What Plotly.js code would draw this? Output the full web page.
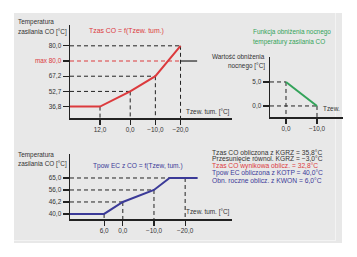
<!DOCTYPE html>
<html>
<head>
<meta charset="utf-8">
<script src="https://cdn.plot.ly/plotly-3.0.1.min.js"></script>
<style>
  html, body { margin: 0; padding: 0; background: #ffffff; }
  #chart { width: 357px; height: 257px; }
</style>
</head>
<body>
<div id="chart"></div>
<script>
// Heating curve: supply temperature vs. averaged outdoor temperature
var tzewTop = [12, 0, -10, -20];
var tempTop = ["36,8", "52,7", "67,2", "80,0"];
var catsTop = ["36,8", "52,7", "67,2", "max 80,0", "80,0"];
var maxTop = "max 80,0";

// Night set-back function
var tzewNight = [0, -10];
var setbackNight = [5, 0];

// Hot-water exchanger supply temperature vs. outdoor temperature
var tzewBot = [6, 0, -10, -15, -24];
var tempBot = ["40,0", "46,2", "56,0", "65,0", "65,0"];
var catsBot = ["40,0", "46,2", "56,0", "65,0"];
var tickTzewBot = [6, 0, -10, -20];

// Computed values listed at the bottom right
var infoLines = [
  "Tzas CO obliczona z KGRZ = 35,8°C",
  "Przesunięcie równol. KGRZ = −3,0°C",
  "Tzas CO wynikowa oblicz. = 32,8°C",
  "Tpow EC obliczona z KOTP = 40,0°C",
  "Obn. roczne oblicz. z KWON = 6,0°C"
];

var W = 357, H = 257;
function px(x) { return x / W; }
function py(y) { return 1 - y / H; }

var FONT = "Liberation Sans, Arial, sans-serif";
var RED = "#dc3a3d", BLUE = "#3b3a98", GREEN = "#33a35a", INK = "#222222", TXT = "#333333";
var DASH = "4px,3px";
var FS = 6.4;

function fmt(v) {
  var s = Math.abs(v).toFixed(1).replace(".", ",");
  return v < 0 ? "−" + s : s;
}

var baseAxis = {
  showgrid: false, zeroline: false, showline: true, linecolor: INK, linewidth: 1.5,
  ticks: "outside", ticklen: 6, tickwidth: 1.2, tickcolor: INK,
  tickfont: { family: FONT, size: FS, color: TXT }, fixedrange: true
};
function ax(extra) { return Object.assign({}, baseAxis, extra); }

var xTop = ax({ domain: [px(70), px(232)], range: [23.93, -40.46], anchor: "y",
  tickmode: "array", tickvals: tzewTop, ticktext: tzewTop.map(fmt), ticklen: 5 });
var yTop = ax({ domain: [py(118), py(25)], type: "category", categoryorder: "array",
  categoryarray: catsTop, range: [-0.75, 5.37], anchor: "x",
  tickmode: "array", tickvals: catsTop,
  ticktext: catsTop.map(function (c) { return c === maxTop ? '<span style="color:' + RED + '">' + c + '</span>' : c; }) });

var xNight = ax({ domain: [px(270), px(343)], range: [5.16, -18.39], anchor: "y2",
  tickmode: "array", tickvals: tzewNight, ticktext: tzewNight.map(fmt), ticklen: 5 });
var yNight = ax({ domain: [py(117), py(57)], range: [-2.3, 10.2], anchor: "x2",
  tickmode: "array", tickvals: setbackNight, ticktext: setbackNight.map(fmt) });

var xBot = ax({ domain: [px(70), px(232)], range: [16.94, -35.03], anchor: "y3",
  tickmode: "array", tickvals: tickTzewBot, ticktext: tickTzewBot.map(fmt), ticklen: 5 });
var yBot = ax({ domain: [py(219), py(154)], type: "category", categoryorder: "array",
  categoryarray: catsBot, range: [-0.42, 5.0], anchor: "x3",
  tickmode: "array", tickvals: catsBot, ticktext: catsBot });

var traces = [
  { type: "scatter", mode: "lines", xaxis: "x", yaxis: "y",
    x: [xTop.range[0]].concat(tzewTop), y: [tempTop[0]].concat(tempTop),
    line: { color: RED, width: 2 }, hoverinfo: "skip" },
  { type: "scatter", mode: "lines", xaxis: "x2", yaxis: "y2",
    x: tzewNight, y: setbackNight,
    line: { color: GREEN, width: 2 }, hoverinfo: "skip" },
  { type: "scatter", mode: "lines", xaxis: "x3", yaxis: "y3",
    x: [xBot.range[0]].concat(tzewBot), y: [tempBot[0]].concat(tempBot),
    line: { color: BLUE, width: 2 }, hoverinfo: "skip" }
];

var shapes = [];
// background panel
shapes.push({ type: "rect", xref: "paper", yref: "paper", x0: px(14), x1: px(342), y0: py(243), y1: py(13),
  fillcolor: "#e8e8e8", line: { width: 0 }, layer: "below" });
shapes.push({ type: "line", xref: "paper", yref: "paper", x0: px(335.5), x1: px(335.5), y0: py(241), y1: py(13),
  line: { color: "#f3f3f3", width: 1 }, layer: "below" });
shapes.push({ type: "line", xref: "paper", yref: "paper", x0: px(14), x1: px(335.5), y0: py(240.5), y1: py(240.5),
  line: { color: "#f3f3f3", width: 1 }, layer: "below" });

function guide(xr, yr, x0, y0, x1, y1, color) {
  shapes.push({ type: "line", xref: xr, yref: yr, x0: x0, y0: y0, x1: x1, y1: y1,
    line: { color: color || INK, width: 1, dash: DASH }, layer: "below" });
}

// heating curve guides
var topIdx = function (c) { return catsTop.indexOf(c); };
tzewTop.forEach(function (t, i) {
  guide("x", "y", t, topIdx(tempTop[i]), t, yTop.range[0]);
  if (i > 0) guide("x", "y", xTop.range[0], topIdx(tempTop[i]), t, topIdx(tempTop[i]));
});
guide("x", "y", xTop.range[0], topIdx(maxTop), tzewTop[tzewTop.length - 1], topIdx(maxTop), RED);
shapes.push({ type: "line", xref: "x", yref: "y", x0: tzewTop[tzewTop.length - 1], x1: -26.6,
  y0: topIdx(maxTop), y1: topIdx(maxTop), line: { color: INK, width: 1.2 } });

// night set-back guides
tzewNight.forEach(function (t, i) {
  guide("x2", "y2", t, setbackNight[i], t, yNight.range[0]);
  guide("x2", "y2", xNight.range[0], setbackNight[i], t, setbackNight[i]);
});

// exchanger curve guides
var botIdx = function (c) { return catsBot.indexOf(c); };
[1, 2, 3].forEach(function (i) {
  guide("x3", "y3", xBot.range[0], botIdx(tempBot[i]), tzewBot[i], botIdx(tempBot[i]));
});
tickTzewBot.forEach(function (t, i) {
  var level = i < 3 ? tempBot[i] : tempBot[tempBot.length - 1];
  guide("x3", "y3", t, botIdx(level), t, yBot.range[0]);
});

function note(text, x, y, opts) {
  return Object.assign({ xref: "paper", yref: "paper", x: px(x), y: py(y), text: text, showarrow: false,
    xanchor: "left", yanchor: "middle", align: "left",
    font: { family: FONT, size: FS, color: TXT } }, opts || {});
}
function colored(c, size) { return { font: { family: FONT, size: size || FS, color: c } }; }

var annotations = [
  note("Temperatura", 16, 22),
  note("zasilania CO [°C]", 16, 32),
  note("Tzas CO = f(Tzew. tum.)", 87, 31, colored(RED, 6.9)),
  note("Tzew. tum. [°C]", 232, 112, { xanchor: "right" }),
  note("Funkcja obniżenia nocnego", 251, 32, colored(GREEN)),
  note("temperatury zasilania CO", 251, 42, colored(GREEN)),
  note("Wartość obniżenia", 267, 56, { xanchor: "right" }),
  note("nocnego [°C]", 267, 66, { xanchor: "right" }),
  note("Tzew.", 342, 108, { xanchor: "right" }),
  note("Temperatura", 16, 155),
  note("zasilania CO [°C]", 16, 164),
  note("Tpow EC z CO = f(Tzew, tum.)", 91, 166, colored(BLUE, 6.6)),
  note("Tzew. tum. [°C]", 232, 212, { xanchor: "right" })
];
var infoColors = [TXT, TXT, RED, BLUE, BLUE];
infoLines.forEach(function (s, i) {
  annotations.push(note(s, 210, 152 + 7 * i, colored(infoColors[i], 6.7)));
});

var layout = {
  width: W, height: H, margin: { l: 0, r: 0, t: 0, b: 0 },
  paper_bgcolor: "#ffffff", plot_bgcolor: "rgba(0,0,0,0)", showlegend: false,
  xaxis: xTop, yaxis: yTop, xaxis2: xNight, yaxis2: yNight, xaxis3: xBot, yaxis3: yBot,
  shapes: shapes, annotations: annotations, font: { family: FONT }
};

Plotly.newPlot("chart", traces, layout, { staticPlot: true, displayModeBar: false });
</script>
</body>
</html>
